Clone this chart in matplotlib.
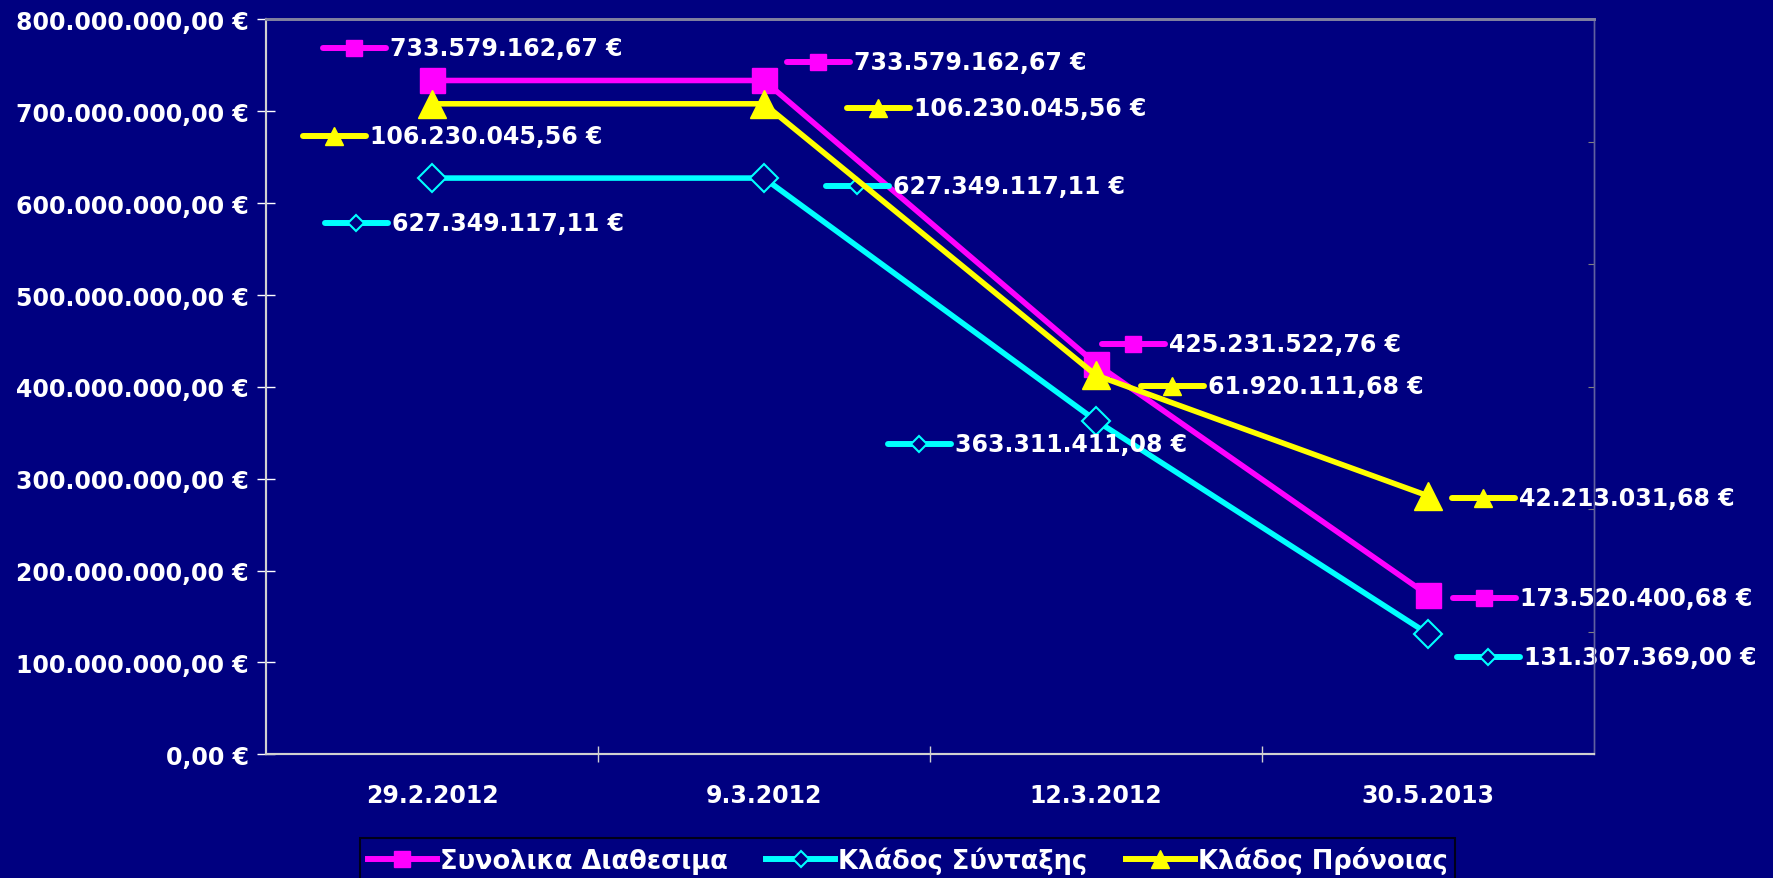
import matplotlib.pyplot as plt
from matplotlib.lines import Line2D
from matplotlib.offsetbox import AnnotationBbox, DrawingArea, HPacker, TextArea

dates = ['29.2.2012', '9.3.2012', '12.3.2012', '30.5.2013']
synolika = [733579162.67, 733579162.67, 425231522.76, 173520400.68]
syntaxis = [627349117.11, 627349117.11, 363311411.08, 131307369.00]
pronoia = [106230045.56, 106230045.56, 61920111.68, 42213031.68]
names = ['Συνολικα Διαθεσιμα', 'Κλάδος Σύνταξης', 'Κλάδος Πρόνοιας']

# label text start offsets from each point, in pixels (x right, y up)
off_syn = [(-39, 32), (93, 18), (76, 20), (95, -3)]
off_syt = [(-37, -45), (132, -8), (-138, -23), (99, -23)]
off_pro = [(-59, -32), (153, -4), (115, -11), (94, -2)]

navy = '#000080'
pink, cyan, yellow = '#FF00FF', '#00FFFF', '#FFFF00'
plt.rcParams['font.family'] = ['DejaVu Sans']
plt.rcParams['font.weight'] = 'bold'


def euro(v, pos=None):
    s = f"{v:,.2f}".replace(',', 'X').replace('.', ',').replace('X', '.')
    return s + ' €'


fig = plt.figure(figsize=(17.73, 8.79), dpi=100, facecolor=navy)
ax = fig.add_axes([0.15, 0.1407, 0.749, 0.836], facecolor=navy)
ax2 = ax.twinx()

x = list(range(len(dates)))
styles = [
    dict(color=pink, marker='s', markersize=18, mfc=pink, mec=pink),
    dict(color=cyan, marker='D', markersize=14, mfc=navy, mec=cyan, mew=1.5),
    dict(color=yellow, marker='^', markersize=20, mfc=yellow, mec=yellow),
]
key_ms = [11.5, 8.5, 13]

ax.plot(x, synolika, lw=4, **styles[0])
ax.plot(x, syntaxis, lw=4, **styles[1])
ax2.plot(x, pronoia, lw=4, **styles[2])


def label(axis, xs, ys, offs, st, kms):
    for xi, yi, (dx, dy) in zip(xs, ys, offs):
        da = DrawingArea(48, 14, 0, 0)
        kw = dict(st)
        kw['markersize'] = kms
        da.add_artist(Line2D([1.5, 46.5], [7, 7], lw=4.3, color=st['color'],
                             solid_capstyle='round'))
        da.add_artist(Line2D([24], [7], lw=0, **kw))
        txt = TextArea(euro(yi), textprops=dict(color='white', fontsize=17,
                                                fontweight='bold'))
        box = HPacker(children=[da, txt], align='center', pad=0, sep=2)
        ab = AnnotationBbox(box, (xi, yi), xybox=(dx - 72, dy),
                            xycoords='data', boxcoords='offset pixels',
                            box_alignment=(0, 0.5), frameon=False, pad=0)
        axis.add_artist(ab)


label(ax, x, synolika, off_syn, styles[0], key_ms[0])
label(ax, x, syntaxis, off_syt, styles[1], key_ms[1])
label(ax2, x, pronoia, off_pro, styles[2], key_ms[2])

ax.set_xlim(-0.5, 3.5)
ax.set_ylim(0, 800e6)
ax2.set_ylim(0, 120e6)
ax.set_yticks([i * 100e6 for i in range(9)])
ax.yaxis.set_major_formatter(euro)
ax.tick_params(axis='y', colors='white', labelsize=17, direction='inout',
               length=13, width=1, pad=6)
ax.set_xticks([0.5, 1.5, 2.5])
ax.set_xticklabels([])
ax.set_xticks(x, minor=True)
ax.set_xticklabels(dates, minor=True, fontsize=17, color='white')
ax.tick_params(axis='x', which='major', colors='#D0D0D0', direction='inout',
               length=11, width=1)
ax.tick_params(axis='x', which='minor', length=0, pad=21)
ax2.set_yticks([i * 20e6 for i in range(7)])
ax2.set_yticklabels([])
ax2.tick_params(axis='y', colors='#808080', direction='in', length=4)

for a in (ax, ax2):
    a.spines['left'].set_color('#D0D0D0')
    a.spines['bottom'].set_color('#D0D0D0')
    a.spines['left'].set_linewidth(1.5)
    a.spines['bottom'].set_linewidth(1.5)
    a.spines['top'].set_color('#8080A0')
    a.spines['top'].set_linewidth(2)
    a.spines['right'].set_color('#6060A0')
    a.spines['right'].set_linewidth(1)

handles = []
for st, kms in zip(styles, key_ms):
    kw = dict(st)
    kw['markersize'] = kms
    handles.append(Line2D([], [], lw=4.3, **kw))
leg = fig.legend(handles, names, loc='upper left', ncol=3,
                 bbox_to_anchor=(360 / 1773, 1 - 839 / 879),
                 borderaxespad=0, frameon=True, facecolor=navy, edgecolor='black',
                 fontsize=18.5, handlelength=2.7, handletextpad=0.1,
                 columnspacing=1.5, borderpad=0.3, fancybox=False)
leg.get_frame().set_linewidth(1.5)
for t in leg.get_texts():
    t.set_color('white')

fig.savefig('out.png', dpi=100, facecolor=navy)
